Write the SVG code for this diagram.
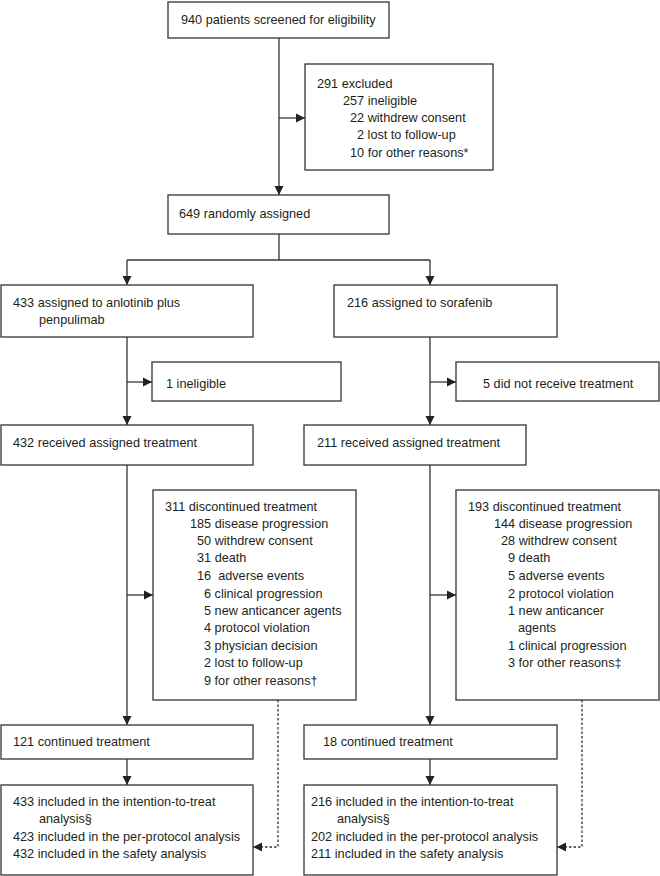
<svg xmlns="http://www.w3.org/2000/svg" width="660" height="876" viewBox="0 0 660 876">
<defs>
<style>
.box{fill:#fff;stroke:#333;stroke-width:1.3}
.ln{fill:none;stroke:#333;stroke-width:1.3}
.dot{fill:none;stroke:#333;stroke-width:1.3;stroke-dasharray:2.5,2}
text{font-family:"Liberation Sans",Arial,sans-serif;font-size:12.7px;fill:#231f20}
</style>
<marker id="ah" viewBox="0 0 10 10" refX="10" refY="5" markerWidth="9" markerHeight="10" markerUnits="userSpaceOnUse" orient="auto">
<path d="M0,0 L10,5 L0,10 z" fill="#222"/>
</marker>
</defs>
<rect width="660" height="876" fill="#fff"/>
<g id="connectors">
<path class="ln" d="M279,38 V195" marker-end="url(#ah)"/>
<path class="ln" d="M279,118 H305" marker-end="url(#ah)"/>
<path class="ln" d="M279,234 V260"/>
<path class="ln" d="M127,260 H430"/>
<path class="ln" d="M127,260 V285" marker-end="url(#ah)"/>
<path class="ln" d="M430,260 V285" marker-end="url(#ah)"/>
<path class="ln" d="M127,337 V425" marker-end="url(#ah)"/>
<path class="ln" d="M127,382 H152" marker-end="url(#ah)"/>
<path class="ln" d="M430,337 V425" marker-end="url(#ah)"/>
<path class="ln" d="M430,382 H456" marker-end="url(#ah)"/>
<path class="ln" d="M127,465 V725" marker-end="url(#ah)"/>
<path class="ln" d="M127,595 H153" marker-end="url(#ah)"/>
<path class="ln" d="M430,465 V725" marker-end="url(#ah)"/>
<path class="ln" d="M430,595 H456" marker-end="url(#ah)"/>
<path class="ln" d="M127,759 V785" marker-end="url(#ah)"/>
<path class="ln" d="M430,759 V785" marker-end="url(#ah)"/>
<path class="dot" d="M278,700 V847 H253" marker-end="url(#ah)"/>
<path class="dot" d="M582,700 V847 H557" marker-end="url(#ah)"/>
</g>
<g id="screened">
<rect class="box" x="168" y="2" width="221" height="36"/>
<text x="181" y="24">940 patients screened for eligibility</text>
</g>
<g id="excluded">
<rect class="box" x="305" y="64" width="188" height="106"/>
<text x="317" y="88">291 excluded</text>
<text x="343" y="105">257 ineligible</text>
<text x="350" y="122">22 withdrew consent</text>
<text x="357" y="139">2 lost to follow-up</text>
<text x="350" y="157">10 for other reasons*</text>
</g>
<g id="randomised">
<rect class="box" x="168" y="195" width="221" height="39"/>
<text x="179" y="218">649 randomly assigned</text>
</g>
<g id="arm-a">
<rect class="box" x="1" y="285" width="252" height="52"/>
<text x="13" y="307">433 assigned to anlotinib plus</text>
<text x="39" y="324">penpulimab</text>
</g>
<g id="arm-b">
<rect class="box" x="334" y="285" width="223" height="52"/>
<text x="347" y="307">216 assigned to sorafenib</text>
</g>
<g id="ineligible-a">
<rect class="box" x="152" y="362" width="189" height="39"/>
<text x="166" y="388">1 ineligible</text>
</g>
<g id="notreat-b">
<rect class="box" x="456" y="362" width="203" height="39"/>
<text x="483" y="388">5 did not receive treatment</text>
</g>
<g id="received-a">
<rect class="box" x="1" y="425" width="252" height="40"/>
<text x="13" y="447">432 received assigned treatment</text>
</g>
<g id="received-b">
<rect class="box" x="304" y="425" width="222" height="40"/>
<text x="317" y="447">211 received assigned treatment</text>
</g>
<g id="discontinued-a">
<rect class="box" x="153" y="490" width="203" height="210"/>
<text x="165" y="511">311 discontinued treatment</text>
<text x="190" y="528">185 disease progression</text>
<text x="197" y="545">50 withdrew consent</text>
<text x="197" y="562">31 death</text>
<text x="197" y="580" xml:space="preserve">16  adverse events</text>
<text x="204" y="598">6 clinical progression</text>
<text x="204" y="615">5 new anticancer agents</text>
<text x="204" y="632">4 protocol violation</text>
<text x="204" y="650">3 physician decision</text>
<text x="204" y="667">2 lost to follow-up</text>
<text x="204" y="685">9 for other reasons†</text>
</g>
<g id="discontinued-b">
<rect class="box" x="456" y="490" width="203" height="210"/>
<text x="468" y="511">193 discontinued treatment</text>
<text x="494" y="528">144 disease progression</text>
<text x="501" y="545">28 withdrew consent</text>
<text x="508" y="562">9 death</text>
<text x="508" y="580">5 adverse events</text>
<text x="508" y="598">2 protocol violation</text>
<text x="508" y="615">1 new anticancer</text>
<text x="518" y="632">agents</text>
<text x="508" y="650">1 clinical progression</text>
<text x="508" y="667">3 for other reasons‡</text>
</g>
<g id="continued-a">
<rect class="box" x="1" y="725" width="252" height="34"/>
<text x="13" y="746">121 continued treatment</text>
</g>
<g id="continued-b">
<rect class="box" x="304" y="725" width="253" height="34"/>
<text x="323" y="746">18 continued treatment</text>
</g>
<g id="analysis-a">
<rect class="box" x="1" y="785" width="252" height="90"/>
<text x="13" y="806">433 included in the intention-to-treat</text>
<text x="39" y="823">analysis§</text>
<text x="13" y="841">423 included in the per-protocol analysis</text>
<text x="13" y="858">432 included in the safety analysis</text>
</g>
<g id="analysis-b">
<rect class="box" x="304" y="785" width="253" height="90"/>
<text x="311" y="806">216 included in the intention-to-treat</text>
<text x="337" y="823">analysis§</text>
<text x="311" y="841">202 included in the per-protocol analysis</text>
<text x="311" y="858">211 included in the safety analysis</text>
</g>
</svg>
